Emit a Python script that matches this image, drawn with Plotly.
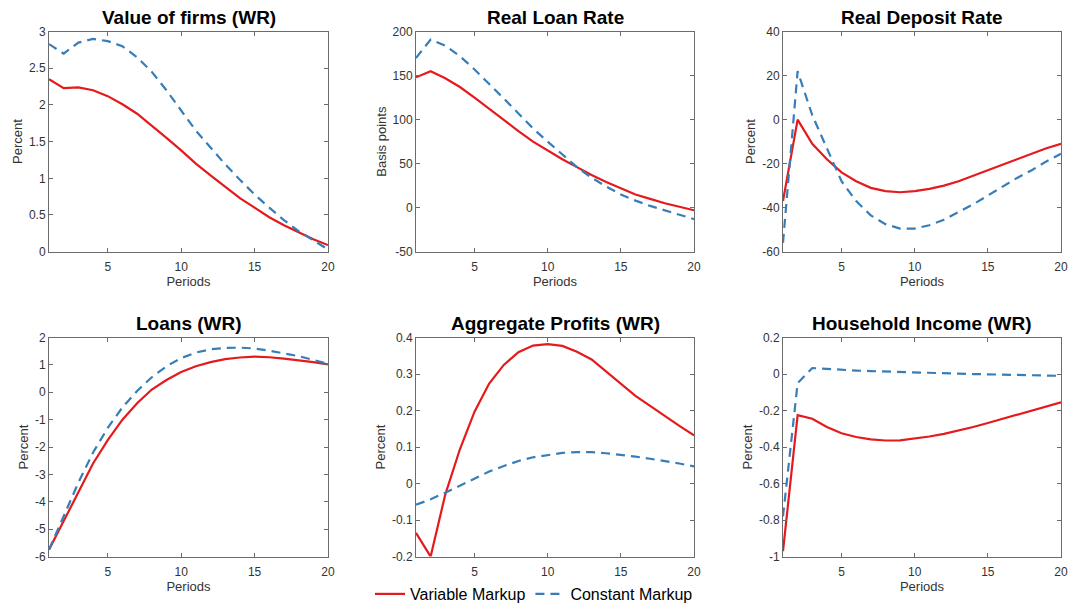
import plotly.graph_objects as go

periods = list(range(1, 21))

titles = ["Value of firms (WR)", "Real Loan Rate", "Real Deposit Rate",
          "Loans (WR)", "Aggregate Profits (WR)", "Household Income (WR)"]
ylabels = ["Percent", "Basis points", "Percent", "Percent", "Percent", "Percent"]

value_var = [2.35, 2.23, 2.24, 2.20, 2.12, 2.01, 1.88, 1.72, 1.55, 1.38,
             1.20, 1.04, 0.88, 0.73, 0.60, 0.47, 0.36, 0.26, 0.17, 0.09]
value_const = [2.83, 2.70, 2.85, 2.90, 2.87, 2.80, 2.65, 2.45, 2.20, 1.92,
               1.65, 1.42, 1.19, 0.98, 0.78, 0.60, 0.43, 0.28, 0.15, 0.03]

loanrate_var = [148, 155, 147, 137, 125, 112, 99, 87, 75, 65,
                55, 46, 37, 29, 22, 15, 10, 5, 1, -3]
loanrate_const = [170, 191, 184, 172, 157, 141, 124, 107, 90, 75,
                  60, 46, 34, 24, 15, 8, 2, -3, -8, -13]

deposit_var = [-37, 0, -11, -18, -24, -28, -31, -32.5, -33, -32.5,
               -31.5, -30, -28, -25.5, -23, -20.5, -18, -15.5, -13, -11]
deposit_const = [-56, 22, 2, -13, -28, -37, -43.5, -47.5, -49.5, -49.5,
                 -48, -45.5, -42, -38.5, -34.5, -30.5, -26.5, -23, -19, -15.5]

loans_var = [-5.75, -4.7, -3.6, -2.6, -1.75, -1.0, -0.4, 0.1, 0.45, 0.74,
             0.95, 1.1, 1.21, 1.27, 1.3, 1.28, 1.23, 1.17, 1.1, 1.02]
loans_const = [-5.75, -4.5, -3.3, -2.2, -1.3, -0.55, 0.05, 0.55, 0.95, 1.25,
               1.45, 1.57, 1.62, 1.63, 1.6, 1.52, 1.43, 1.32, 1.18, 1.04]

profits_var = [-0.135, -0.2, -0.03, 0.094, 0.197, 0.274, 0.325, 0.36, 0.378, 0.382,
               0.377, 0.361, 0.34, 0.307, 0.272, 0.24, 0.213, 0.185, 0.158, 0.132]
profits_const = [-0.058, -0.043, -0.025, -0.005, 0.015, 0.033, 0.048, 0.062, 0.072, 0.079,
                 0.084, 0.086, 0.086, 0.083, 0.079, 0.074, 0.068, 0.062, 0.055, 0.047]

income_var = [-0.97, -0.225, -0.245, -0.29, -0.324, -0.345, -0.358, -0.364, -0.363, -0.353,
              -0.342, -0.328, -0.31, -0.29, -0.268, -0.246, -0.224, -0.201, -0.178, -0.155]
income_const = [-0.78, -0.05, 0.033, 0.027, 0.022, 0.019, 0.016, 0.013, 0.010, 0.008,
                0.006, 0.004, 0.002, 0.0, -0.002, -0.004, -0.006, -0.007, -0.009, -0.01]

var_series = [value_var, loanrate_var, deposit_var, loans_var, profits_var, income_var]
const_series = [value_const, loanrate_const, deposit_const, loans_const, profits_const, income_const]

y_ticks = [
    [0, 0.5, 1, 1.5, 2, 2.5, 3],
    [-50, 0, 50, 100, 150, 200],
    [-60, -40, -20, 0, 20, 40],
    [-6, -5, -4, -3, -2, -1, 0, 1, 2],
    [-0.2, -0.1, 0, 0.1, 0.2, 0.3, 0.4],
    [-1, -0.8, -0.6, -0.4, -0.2, 0, 0.2],
]
x_ticks = [5, 10, 15, 20]

RED = "#e41a1c"
BLUE = "#377eb8"
W, H = 1069, 611

xpix = [(49, 328), (416, 694), (783, 1061)]
ypix = [(32, 255), (342, 564)]


def fmt(v):
    return "%g" % v  # plain ASCII hyphen for negatives, as in the reference


fig = go.Figure()
font_family = "Liberation Sans, Arial, Helvetica, sans-serif"
annotations = []

for i in range(6):
    r, c = divmod(i, 3)
    idx = "" if i == 0 else str(i + 1)
    xa, ya = "x" + idx, "y" + idx
    fig.add_trace(go.Scatter(x=periods, y=var_series[i], mode="lines",
                             line=dict(color=RED, width=2.2),
                             name="Variable Markup", showlegend=(i == 0),
                             xaxis=xa, yaxis=ya))
    fig.add_trace(go.Scatter(x=periods, y=const_series[i], mode="lines",
                             line=dict(color=BLUE, width=2.2, dash="9px,6px"),
                             name="Constant Markup", showlegend=(i == 0),
                             xaxis=xa, yaxis=ya))
    x0, x1 = xpix[c]
    y0, y1 = ypix[r]
    xd = [x0 / W, x1 / W]
    yd = [1 - y1 / H, 1 - y0 / H]
    axcommon = dict(showline=True, linecolor="#6b6b6b", linewidth=1, mirror="ticks",
                    ticks="inside", ticklen=4, tickcolor="#6b6b6b", showgrid=False,
                    zeroline=False, automargin=False,
                    tickfont=dict(size=12, color="#333333", family=font_family))
    xtitle = None if i == 4 else dict(text="Periods", font=dict(size=13, color="#333333"), standoff=0)
    fig.layout["xaxis" + idx] = dict(domain=xd, anchor=ya, range=[1, 20],
                                     tickvals=x_ticks, ticktext=[fmt(v) for v in x_ticks],
                                     ticklabelstandoff=4,
                                     title=xtitle, **axcommon)
    yt = y_ticks[i]
    fig.layout["yaxis" + idx] = dict(domain=yd, anchor=xa, range=[yt[0], yt[-1]],
                                     tickvals=yt, ticktext=[fmt(v) for v in yt],
                                     title=dict(text=ylabels[i], font=dict(size=13, color="#333333"), standoff=3),
                                     **axcommon)
    annotations.append(dict(text="<b>%s</b>" % titles[i], x=(xd[0] + xd[1]) / 2,
                            y=1 - (y0 - 14) / H, xref="paper", yref="paper",
                            xanchor="center", yanchor="middle", showarrow=False,
                            font=dict(size=19, color="black", family=font_family)))

fig.update_layout(
    width=W, height=H, margin=dict(l=0, r=0, t=0, b=0),
    paper_bgcolor="white", plot_bgcolor="white",
    font=dict(family=font_family, color="#333333"),
    annotations=annotations,
    legend=dict(orientation="h", x=534 / W, xanchor="center", y=1 - 602 / H, yanchor="middle",
                font=dict(size=16, color="black"), bgcolor="rgba(0,0,0,0)",
                itemwidth=30, tracegroupgap=0),
)

fig.write_html("out.html", config={"displayModeBar": False},
               post_script="document.body.style.margin='0';document.body.style.overflow='hidden';")
